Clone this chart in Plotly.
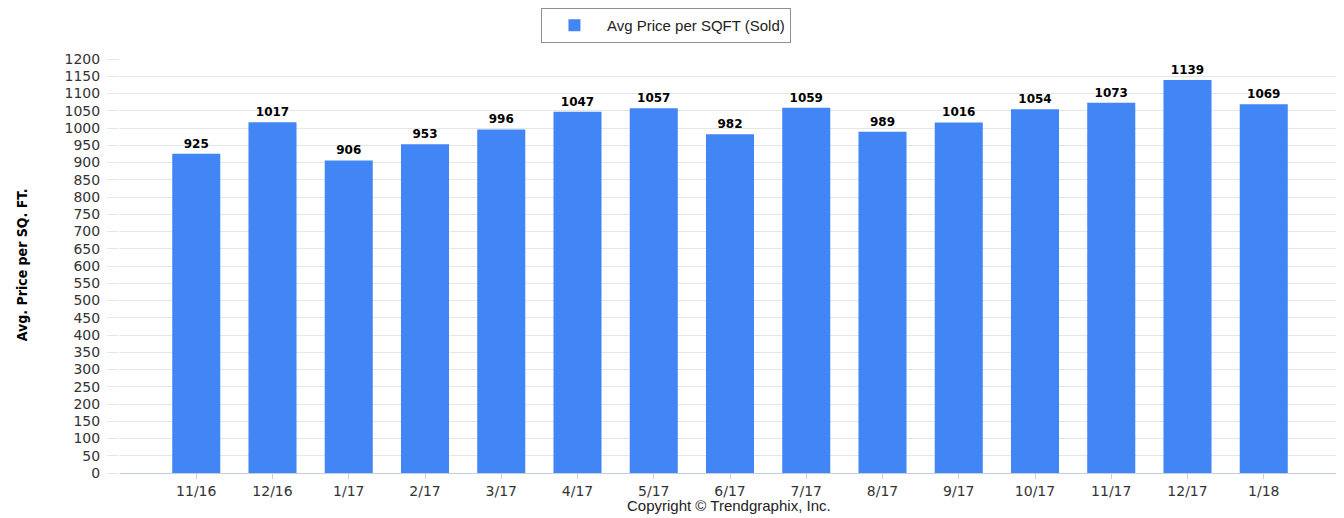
import plotly.graph_objects as go

months = ["11/16", "12/16", "1/17", "2/17", "3/17", "4/17", "5/17", "6/17",
          "7/17", "8/17", "9/17", "10/17", "11/17", "12/17", "1/18"]
avg_price_sqft = [925, 1017, 906, 953, 996, 1047, 1057, 982,
                  1059, 989, 1016, 1054, 1073, 1139, 1069]
y_ticks = list(range(0, 1201, 50))

BAR = "#4285f4"

fig = go.Figure()
fig.add_trace(go.Bar(
    x=months, y=avg_price_sqft, name="Avg Price per SQFT (Sold)",
    marker=dict(color=BAR, line=dict(width=0)),
    text=[str(v) for v in avg_price_sqft], textposition="outside",
    textfont=dict(family="DejaVu Sans", size=12, color="#000000", weight="bold"),
    cliponaxis=False,
))

fig.update_layout(
    width=1336, height=510,
    margin=dict(l=112, r=4, t=51, b=45),
    plot_bgcolor="#ffffff", paper_bgcolor="#ffffff",
    bargap=0.37,
    showlegend=True,
    legend=dict(
        orientation="h", x=0.4475, xanchor="center",
        yref="container", y=1.0, yanchor="top",
        bgcolor="#ffffff", bordercolor="#909090", borderwidth=1,
        font=dict(family="Liberation Sans, Arial", size=15, color="#222222"),
        itemwidth=55,
    ),
    xaxis=dict(
        type="category", range=[-1, 15],
        showgrid=False, showline=True, linecolor="#c0d0e0", linewidth=1,
        ticks="outside", ticklen=5, tickcolor="#c0d0e0",
        tickfont=dict(family="DejaVu Sans", size=14, color="#333333"),
        fixedrange=True,
    ),
    yaxis=dict(
        range=[0, 1200], tickvals=y_ticks,
        showgrid=True, gridcolor="#e6e6e6", gridwidth=1,
        zeroline=False, showline=False,
        ticks="outside", ticklen=12, tickcolor="#e6e6e6",
        ticklabelstandoff=4,
        tickfont=dict(family="DejaVu Sans", size=14, color="#333333"),
    ),
    annotations=[
        dict(text="Avg. Price per SQ. FT.", textangle=-90,
             xref="paper", yref="paper", x=-0.0803, y=0.502,
             xanchor="center", yanchor="middle", showarrow=False,
             font=dict(family="DejaVu Sans Condensed, Liberation Sans Narrow, Arial",
                       size=14, color="#000000", weight="bold")),
        dict(text="Copyright © Trendgraphix, Inc.",
             xref="paper", yref="paper", x=0.499, y=-0.1039,
             xanchor="center", yanchor="bottom", showarrow=False,
             font=dict(family="Liberation Sans, Arial", size=15, color="#222222")),
    ],
)

fig.write_html("out.html")
